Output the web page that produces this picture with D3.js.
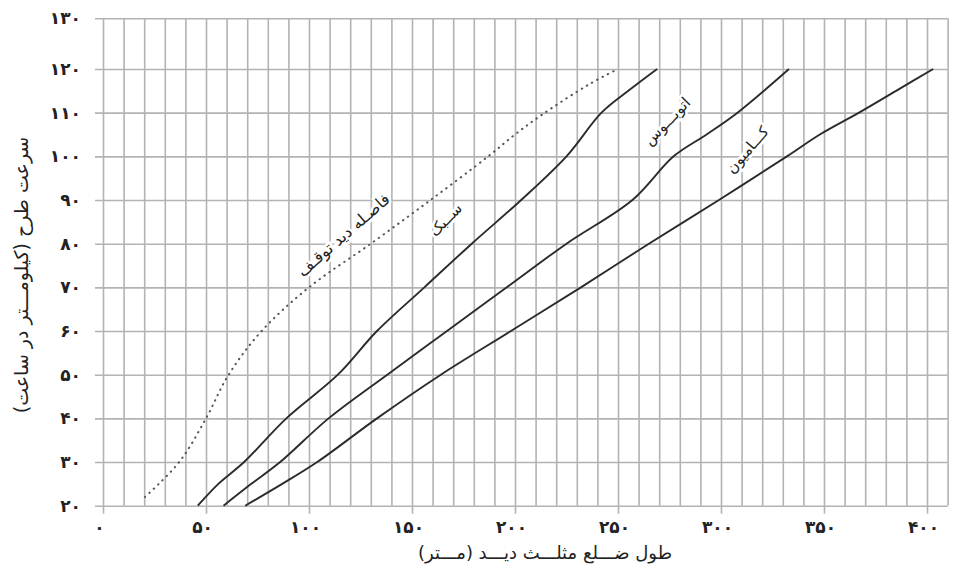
<!DOCTYPE html>
<html>
<head>
<meta charset="utf-8">
<script src="https://cdn.jsdelivr.net/npm/d3@7"></script>
<style>
  html, body { margin: 0; padding: 0; background: #fff; }
  svg { display: block; }
  text { font-family: "DejaVu Sans", sans-serif; fill: #222; }
</style>
</head>
<body>
<svg id="chart" width="961" height="574"></svg>
<script>
// ---------- data ----------
const xTicks = [0, 50, 100, 150, 200, 250, 300, 350, 400];
const yTicks = [20, 30, 40, 50, 60, 70, 80, 90, 100, 110, 120, 130];
const xGrid = d3.range(0, 411, 10);

// stopping sight distance (dotted)
const stopSight = [[20.4,22],[37,30],[50,40],[61,50],[77,60],[100,70],[130,80],[159,90],[187,100],[200,105],[213,109.5],[236,116.5],[250,120]];
// car
const car = [[46,20],[56,25],[68.5,30],[89,40],[114,50],[133,60],[156,70],[179,80],[203,90],[225,100],[242,110],[255,115],[269,120]];
// bus
const bus = [[58.5,20],[72,25],[86,30],[109.5,40],[138,50],[167,60],[196,70],[225,80],[257,90],[277,100],[293,105],[308,110],[333,120]];
// truck
const truck = [[69,20],[87,25],[104,30],[133,40],[164,50],[198,60],[232,70],[265,80],[299,90],[332,100],[348,105],[367,110],[385,115],[403,120]];

const curveNames = ["فاصـله دید توقـف", "ســبک", "اتوبـــوس", "کـــامیون"];
const xTitle = "طول ضـــلع مثلـــث دیـــد (مـــتر)";
const yTitle = "سرعت طرح (کیلومـــتر در ساعت)";

// ---------- layout ----------
const svg = d3.select("#chart");
const x = d3.scaleLinear().domain([0, 410]).range([103, 947.6]);
const y = d3.scaleLinear().domain([20, 120, 130]).range([505.7, 69, 18.3]);
const fa = v => String(v).replace(/\d/g, d => "۰۱۲۳۴۵۶۷۸۹"[d]);
const gridColor = "#b3b3b3";

// vertical grid
svg.append("g").attr("class", "vgrid")
  .attr("transform", `translate(0,${y(20)})`)
  .call(d3.axisBottom(x).tickValues(xGrid).tickSize(-(y(20) - y(130))).tickFormat(""))
  .call(g => g.select(".domain").remove())
  .call(g => g.selectAll("line").attr("stroke", gridColor).attr("stroke-width", 1.6));

// major ticks below axis
svg.append("g")
  .attr("transform", `translate(0,${y(20)})`)
  .call(d3.axisBottom(x).tickValues(xTicks).tickSize(8).tickFormat(""))
  .call(g => g.select(".domain").remove())
  .call(g => g.selectAll("line").attr("stroke", gridColor).attr("stroke-width", 1.6));

// horizontal grid
svg.append("g").attr("class", "hgrid")
  .attr("transform", `translate(${x(410)},0)`)
  .call(d3.axisLeft(y).tickValues(yTicks).tickSize(x(410) - x(0) + 8).tickFormat(""))
  .call(g => g.select(".domain").remove())
  .call(g => g.selectAll("line").attr("stroke", gridColor).attr("stroke-width", 1.6));

// y tick labels
svg.append("g")
  .attr("transform", `translate(${x(0) - 22},0)`)
  .call(d3.axisLeft(y).tickValues(yTicks).tickSize(0).tickPadding(0).tickFormat(fa))
  .call(g => g.select(".domain").remove())
  .call(g => g.selectAll("text").attr("font-size", 17).attr("font-weight", "bold").attr("fill", "#222").style("font-family", "DejaVu Sans"));

// x tick labels
svg.append("g")
  .attr("transform", `translate(-4,${y(20) + 15})`)
  .call(d3.axisBottom(x).tickValues(xTicks).tickSize(0).tickPadding(0).tickFormat(fa))
  .call(g => g.select(".domain").remove())
  .call(g => g.selectAll("text").attr("font-size", 17).attr("font-weight", "bold").attr("fill", "#222").style("font-family", "DejaVu Sans"));

// curves
const line = d3.line().x(d => x(d[0])).y(d => y(d[1])).curve(d3.curveCatmullRom.alpha(0.5));

svg.append("path").datum(stopSight)
  .attr("d", line).attr("fill", "none")
  .attr("stroke", "#555").attr("stroke-width", 2)
  .attr("stroke-linecap", "round").attr("stroke-dasharray", "0.5,5.5");

[car, bus, truck].forEach(s => {
  svg.append("path").datum(s)
    .attr("d", line).attr("fill", "none")
    .attr("stroke", "#2b2b2b").attr("stroke-width", 1.9)
    .attr("stroke-linejoin", "round");
});

// curve labels (placed in data coordinates)
const labelPos = [[117, 81.8, -41, 16], [166.5, 85.4, -46, 15], [274, 107.9, -46, 15], [313, 101.4, -49, 15]];
curveNames.forEach((t, i) => {
  const [lx, ly, a, fs] = labelPos[i];
  svg.append("text")
    .attr("transform", `translate(${x(lx)},${y(ly)}) rotate(${a})`)
    .attr("text-anchor", "middle").attr("dominant-baseline", "middle")
    .attr("font-size", fs)
    .attr("stroke", "#fff").attr("stroke-width", 5).attr("paint-order", "stroke")
    .text(t);
});

// axis titles
svg.append("text")
  .attr("x", 545).attr("y", 554)
  .attr("text-anchor", "middle").attr("dominant-baseline", "middle")
  .attr("font-size", 18)
  .text(xTitle);

svg.append("text")
  .attr("transform", `translate(22,${275}) rotate(-90)`)
  .attr("text-anchor", "middle").attr("dominant-baseline", "middle")
  .attr("font-size", 19)
  .text(yTitle);
</script>
</body>
</html>
